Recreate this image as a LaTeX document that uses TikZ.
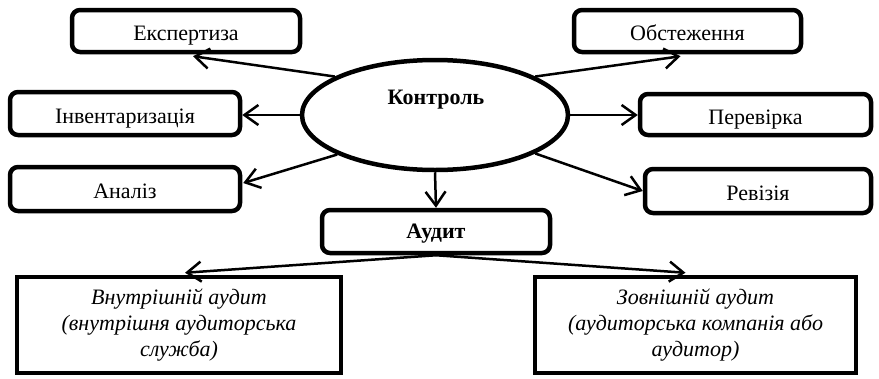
\documentclass[tikz,border=0pt]{standalone}
\usepackage{fontspec}
\setmainfont{Liberation Serif}
\usetikzlibrary{arrows.meta,shapes.geometric,calc}
\tikzset{
  box/.style={draw, line width=4.5pt, rounded corners=8pt, inner sep=0pt, align=center,
    text height=19pt, text depth=0pt,
    font=\fontsize{22}{25}\selectfont},
  sqbox/.style={draw, line width=4.5pt, inner sep=0pt, align=center,
    font=\fontsize{22}{26}\selectfont\itshape},
  arr/.style={line width=2.5pt, -{Straight Barb[length=14pt,width=20pt]}},
}
\begin{document}
\begin{tikzpicture}[x=1pt,y=-1pt]
\useasboundingbox (0,0) rectangle (879,378);
\node[box, minimum width=228pt, minimum height=42pt] (eksp) at (186,31) {Експертиза};
\node[box, minimum width=227pt, minimum height=42pt] (obst) at (687.5,31) {Обстеження};
\node[box, minimum width=230pt, minimum height=43pt] (inv) at (125,113.5) {Інвентаризація};
\node[box, minimum width=231pt, minimum height=41pt] (perev) at (755.5,114.5) {Перевірка};
\node[box, minimum width=230pt, minimum height=44pt] (anal) at (125,189) {Аналіз};
\node[box, minimum width=226pt, minimum height=44pt] (rev) at (758,191) {Ревізія};
\node[draw, ellipse, line width=4.5pt, minimum width=266pt, minimum height=110pt, inner sep=0pt] (ctrl) at (435,115) {};
\node[font=\fontsize{22}{25}\selectfont\bfseries] (ctrltext) at (436,100) {Контроль};
\node[box, minimum width=228pt, minimum height=43pt, text height=14pt, font=\fontsize{22}{25}\selectfont\bfseries] (audit) at (436,231.5) {Аудит};
\node[sqbox, minimum width=324pt, minimum height=96pt] (int) at (179,325) {Внутрішній аудит\\(внутрішня аудиторська\\служба)};
\node[sqbox, minimum width=321pt, minimum height=96pt] (ext) at (695.5,325) {Зовнішній аудит\\(аудиторська компанія або\\аудитор)};

\draw[arr] (ctrl.159) -- ($(eksp.south)+(7,2)$);
\draw[arr] (ctrl.21) -- ($(obst.south)+(-7,2)$);
\draw[arr] (ctrl.west) -- (inv.east |- ctrl.west);
\draw[arr] (ctrl.east) -- (perev.west |- ctrl.east);
\draw[arr] (ctrl.202) -- ($(anal.east)+(1,-6)$);
\draw[arr] (ctrl.339) -- (rev.west);
\draw[arr] (ctrl.south) -- (audit.north);
\draw[arr] (audit.south) -- ($(int.north)+(6,-2)$);
\draw[arr] (audit.south) -- ($(ext.north)+(-10,-2)$);
\end{tikzpicture}
\end{document}
